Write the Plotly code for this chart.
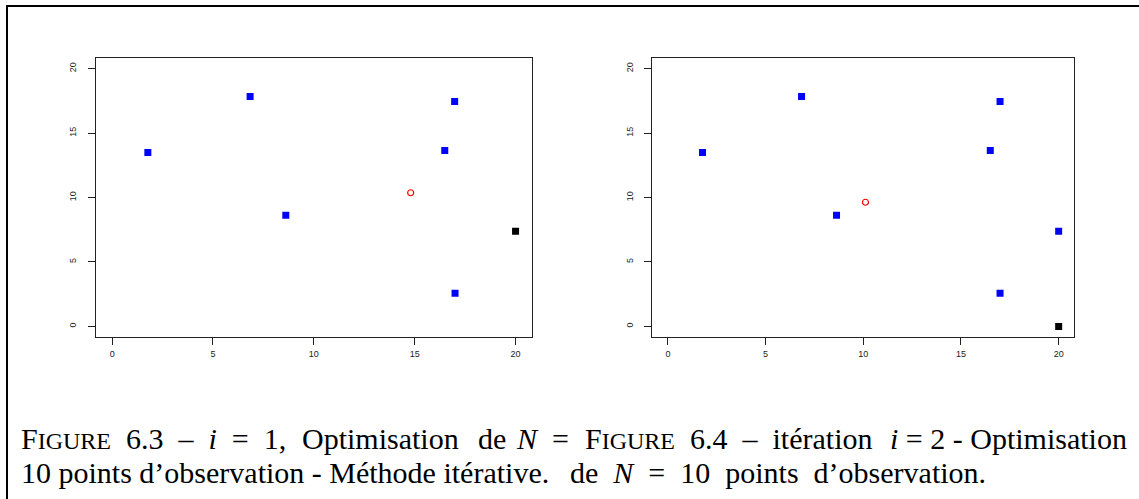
import plotly.graph_objects as go

W, H = 1139, 499

# Panel 1 (iteration i = 1)
p1_obs_x = [1.77, 6.84, 8.61, 16.49, 16.98, 17.0]
p1_obs_y = [13.5, 17.84, 8.62, 13.65, 17.44, 2.58]
p1_red_x = [14.8]
p1_red_y = [10.37]
p1_new_x = [20.0]
p1_new_y = [7.38]

# Panel 2 (iteration i = 2)
p2_obs_x = [1.77, 6.84, 8.63, 16.5, 17.0, 17.0, 20.0]
p2_obs_y = [13.5, 17.84, 8.62, 13.65, 17.44, 2.58, 7.38]
p2_red_x = [10.11]
p2_red_y = [9.63]
p2_new_x = [20.0]
p2_new_y = [0.0]

tick_vals = [0, 5, 10, 15, 20]
tick_text = ["0", "5", "10", "15", "20"]

def px_x(p):
    return p / W

def px_y(p):
    return 1 - p / H

fig = go.Figure()

panels = [
    ("x", "y", p1_obs_x, p1_obs_y, p1_red_x, p1_red_y, p1_new_x, p1_new_y),
    ("x2", "y2", p2_obs_x, p2_obs_y, p2_red_x, p2_red_y, p2_new_x, p2_new_y),
]
for xa, ya, ox, oy, rx, ry, nx, ny in panels:
    fig.add_trace(go.Scatter(x=ox, y=oy, mode="markers", xaxis=xa, yaxis=ya,
                             marker=dict(symbol="square", size=7, color="#0000FF",
                                         line=dict(width=0)), showlegend=False))
    fig.add_trace(go.Scatter(x=rx, y=ry, mode="markers", xaxis=xa, yaxis=ya,
                             marker=dict(symbol="circle-open", size=6, color="#FF0000",
                                         line=dict(width=1.2, color="#FF0000")), showlegend=False))
    fig.add_trace(go.Scatter(x=nx, y=ny, mode="markers", xaxis=xa, yaxis=ya,
                             marker=dict(symbol="square", size=7, color="#000000",
                                         line=dict(width=0)), showlegend=False))

ydom = [px_y(336.7), px_y(58.3)]
common_ax = dict(range=[-0.8, 20.8], showgrid=False, zeroline=False, showline=True,
                 mirror=True, linecolor="#222222", linewidth=1, ticks="outside",
                 ticklen=7, tickwidth=1, tickcolor="#222222", tickvals=tick_vals,
                 ticktext=tick_text, tickfont=dict(family="Liberation Sans", size=9, color="#222222"),
                 fixedrange=True)

fig.update_layout(
    width=W, height=H,
    margin=dict(l=0, r=0, t=0, b=0),
    paper_bgcolor="white", plot_bgcolor="white",
    xaxis=dict(domain=[px_x(96), px_x(531.7)], anchor="y", ticklabelstandoff=1, **common_ax),
    yaxis=dict(domain=ydom, anchor="x", tickangle=-90, ticklabelstandoff=8, **common_ax),
    xaxis2=dict(domain=[px_x(652.3), px_x(1074.3)], anchor="y2", ticklabelstandoff=1, **common_ax),
    yaxis2=dict(domain=ydom, anchor="x2", tickangle=-90, ticklabelstandoff=8, **common_ax),
)

# outer frame (left and top edges)
fig.add_shape(type="line", xref="paper", yref="paper", x0=px_x(7), x1=px_x(7),
              y0=0, y1=px_y(5), line=dict(color="black", width=2))
fig.add_shape(type="line", xref="paper", yref="paper", x0=px_x(6), x1=1,
              y0=px_y(6), y1=px_y(6), line=dict(color="black", width=2))

E = "\u2002"  # wider space (TeX-like stretched spacing)
sc = '<span style="font-size:24px">'
cap_font = dict(family="Liberation Serif", size=30, color="black")
L1, L2 = 438.5, 472
captions = [
    ("F" + sc + "IGURE</span>" + E + "6.3" + E + "–" + E + "<i>i</i>" + E + "=" + E + "1,", 19, L1, "left"),
    ("Optimisation", 300, L1, "left"),
    ("de", 476, L1, "left"),
    ("<i>N</i>" + E + "=", 571, L1, "right"),
    ("F" + sc + "IGURE</span>" + E + "6.4" + E + "–" + E + "itération", 583, L1, "left"),
    ("<i>i</i> = 2 - Optimisation", 1129, L1, "right"),
    ("10 points d’observation - Méthode itérative.", 19, L2, "left"),
    ("de" + E + "<i>N</i>" + E + "=" + E + "10" + E + "points" + E + "d’observation.", 988, L2, "right"),
]
for txt, xp, yp, anc in captions:
    fig.add_annotation(text=txt, xref="paper", yref="paper", x=px_x(xp), y=px_y(yp),
                       xanchor=anc, yanchor="middle", showarrow=False, font=cap_font)

fig.write_html("out.html")
